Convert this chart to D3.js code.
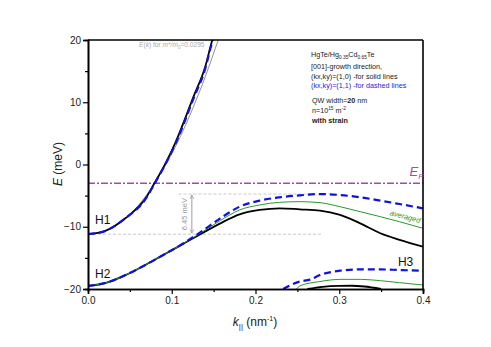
<!DOCTYPE html>
<html>
<head>
<meta charset="utf-8">
<script src="https://cdn.jsdelivr.net/npm/d3@7"></script>
<style>
body { margin: 0; background: #fff; }
text { font-family: Arial, "Liberation Sans", sans-serif; }
</style>
</head>
<body>
<div id="chart"></div>
<script>
// band energies, k in nm^-1, E in meV
var h1K      = [0, 0.02, 0.045, 0.069, 0.079, 0.093, 0.104, 0.126, 0.14, 0.148, 0.152];
var h1Solid  = [-11.2, -10.7, -8.6, -5.4, -3.1, 0.3, 3.4, 10.9, 15.7, 19.8, 21.5];
var h1Dash   = [-11.2, -10.7, -8.6, -5.5, -3.2, 0.2, 3.2, 10.6, 15.4, 19.5, 21];
var parabK   = [0, 0.02, 0.04, 0.06, 0.08, 0.1, 0.12, 0.14, 0.156];
var parabE   = [-11.2, -10.7, -9.2, -6.6, -2.9, 1.7, 7.4, 14.1, 20.2];

var h2K      = [0, 0.0215, 0.045, 0.069, 0.093, 0.117, 0.134, 0.158, 0.181, 0.205, 0.229, 0.253, 0.277, 0.301, 0.325, 0.349, 0.372, 0.4];
var h2Solid  = [-19.5, -19.0, -17.75, -16.1, -14.3, -12.5, -11.2, -9.45, -8.0, -7.3, -7.04, -7.2, -7.4, -8.1, -9.45, -11.05, -12.1, -13.2];
var h2Avg    = [-19.5, -19.0, -17.75, -16.1, -14.3, -12.45, -11.05, -9.0, -7.3, -6.5, -6.07, -5.97, -6.13, -6.78, -7.58, -8.38, -9.19, -10.25];
var h2Dash   = [-19.5, -19.0, -17.75, -16.1, -14.3, -12.4, -10.9, -8.65, -6.78, -5.8, -5.27, -4.95, -4.75, -4.9, -5.27, -5.8, -6.35, -7.04];

var h3SolidK = [0.262, 0.28, 0.3, 0.315, 0.33, 0.35];
var h3Solid  = [-20, -19.65, -19.5, -19.48, -19.6, -20];
var h3AvgK   = [0.249, 0.253, 0.277, 0.301, 0.325, 0.349, 0.372, 0.4];
var h3Avg    = [-20, -19.5, -18.8, -18.45, -18.45, -18.66, -18.98, -19.36];
var h3DashK  = [0.233, 0.253, 0.265, 0.277, 0.301, 0.325, 0.349, 0.372, 0.4];
var h3Dash   = [-20, -18.8, -18.5, -17.75, -17.06, -16.85, -16.85, -16.95, -17.06];

var fermiE = -3;
var gapTop = -4.75, gapBottom = -11.2;

var xTicks = [0, 0.1, 0.2, 0.3, 0.4];
var yTicks = [-20, -10, 0, 10, 20];

var W = 491, H = 347;
var margin = {top: 40, right: 68, bottom: 58, left: 88};
var w = W - margin.left - margin.right, h = H - margin.top - margin.bottom;

var svg = d3.select("#chart").append("svg").attr("width", W).attr("height", H);
var g = svg.append("g").attr("transform", "translate(" + margin.left + "," + margin.top + ")");

var x = d3.scaleLinear().domain([0, 0.4]).range([0, w]);
var y = d3.scaleLinear().domain([-20, 20]).range([h, 0]);

g.append("clipPath").attr("id", "clip").append("rect").attr("width", w).attr("height", h);
var plot = g.append("g").attr("clip-path", "url(#clip)");

function zip(ks, es) { return ks.map(function(k, i) { return [k, es[i]]; }); }
var line = d3.line().x(function(d) { return x(d[0]); }).y(function(d) { return y(d[1]); }).curve(d3.curveMonotoneX);

// gap guides
plot.append("line").attr("x1", x(0.108)).attr("x2", x(0.29)).attr("y1", y(gapTop)).attr("y2", y(gapTop))
  .attr("stroke", "#bbb").attr("stroke-width", 0.8).attr("stroke-dasharray", "3,2");
plot.append("line").attr("x1", x(0)).attr("x2", x(0.28)).attr("y1", y(gapBottom)).attr("y2", y(gapBottom))
  .attr("stroke", "#bbb").attr("stroke-width", 0.8).attr("stroke-dasharray", "3,2");

// fermi level
plot.append("line").attr("x1", 0).attr("x2", w).attr("y1", y(fermiE)).attr("y2", y(fermiE))
  .attr("stroke", "#a846b4").attr("stroke-width", 1.6).attr("stroke-dasharray", "7,2,2,2");

// parabolic reference
plot.append("path").datum(zip(parabK, parabE)).attr("d", line)
  .attr("fill", "none").attr("stroke", "#777").attr("stroke-width", 0.8);

var curves = [
  [h2K, h2Solid, "#000", 1.8, null],
  [h2K, h2Avg, "#2a9a2a", 1, null],
  [h2K, h2Dash, "#1010e0", 2.2, "7,4"],
  [h3SolidK, h3Solid, "#000", 1.8, null],
  [h3AvgK, h3Avg, "#2a9a2a", 1, null],
  [h3DashK, h3Dash, "#1010e0", 2.2, "7,4"],
  [h1K, h1Solid, "#000", 1.8, null],
  [h1K, h1Dash, "#1010e0", 2.2, "7,4"]
];
curves.forEach(function(c) {
  plot.append("path").datum(zip(c[0], c[1])).attr("d", line)
    .attr("fill", "none").attr("stroke", c[2]).attr("stroke-width", c[3])
    .attr("stroke-dasharray", c[4]);
});

// gap arrow
svg.append("defs").html(
  '<marker id="ah" viewBox="0 0 10 10" refX="10" refY="5" markerWidth="5" markerHeight="7" orient="auto-start-reverse">' +
  '<path d="M0,0 L10,5 L0,10" fill="none" stroke="#888" stroke-width="1.5"/></marker>');
var ax = x(0.124);
g.append("line").attr("x1", ax).attr("x2", ax).attr("y1", y(gapTop) + 1).attr("y2", y(gapBottom) - 1)
  .attr("stroke", "#888").attr("stroke-width", 0.8)
  .attr("marker-start", "url(#ah)").attr("marker-end", "url(#ah)");
g.append("text").attr("transform", "translate(" + (ax - 5) + "," + y((gapTop + gapBottom) / 2) + ") rotate(-90)")
  .attr("text-anchor", "middle").attr("font-size", 7.5).attr("fill", "#999").text("6.45 meV");

// axes
g.append("g").attr("transform", "translate(0," + h + ")")
  .call(d3.axisBottom(x).tickValues(xTicks).tickFormat(d3.format(".1f")).tickSize(5).tickPadding(3));
g.append("g").attr("transform", "translate(0," + h + ")")
  .call(d3.axisBottom(x).tickValues([0.05, 0.15, 0.25, 0.35]).tickSize(3).tickFormat(""));
g.append("g")
  .call(d3.axisLeft(y).tickValues(yTicks).tickSize(5).tickPadding(2));
g.append("g").call(d3.axisLeft(y).tickValues([-15, -5, 5, 15]).tickSize(3).tickFormat(""));
g.selectAll(".domain").attr("stroke-width", 1.6);
g.selectAll(".tick line").attr("stroke-width", 1.2);
g.selectAll(".tick text").attr("font-size", 10).attr("fill", "#222").attr("font-family", "Arial, 'Liberation Sans', sans-serif");
g.append("line").attr("x1", 0).attr("x2", w).attr("y1", 0).attr("y2", 0).attr("stroke", "#000").attr("stroke-width", 1.6);
g.append("line").attr("x1", w).attr("x2", w).attr("y1", 0).attr("y2", h).attr("stroke", "#000").attr("stroke-width", 1.6);

// axis titles
var yl = svg.append("text").attr("transform", "translate(62,164) rotate(-90)")
  .attr("text-anchor", "middle").attr("font-size", 12).attr("fill", "#222");
yl.append("tspan").attr("font-style", "italic").text("E");
yl.append("tspan").text(" (meV)");
var xl = svg.append("text").attr("x", 255).attr("y", 326).attr("text-anchor", "middle").attr("font-size", 12).attr("fill", "#222");
xl.append("tspan").attr("font-style", "italic").text("k");
xl.append("tspan").attr("font-size", 8).attr("dy", 3).text("||");
xl.append("tspan").attr("dy", -3).text(" (nm");
xl.append("tspan").attr("font-size", 7).attr("dy", -5).text("-1");
xl.append("tspan").attr("dy", 5).text(")");

// band labels
g.append("text").attr("x", 7).attr("y", y(-9.6)).attr("font-size", 12).attr("fill", "#111").text("H1");
g.append("text").attr("x", 7).attr("y", y(-18.3)).attr("font-size", 12).attr("fill", "#111").text("H2");
g.append("text").attr("x", x(0.37)).attr("y", y(-16.3)).attr("font-size", 12).attr("fill", "#111").text("H3");
var ef = g.append("text").attr("x", x(0.384)).attr("y", y(-1.9)).attr("font-size", 13).attr("fill", "#a846b4").attr("font-style", "italic");
ef.append("tspan").text("E");
ef.append("tspan").attr("font-size", 8).attr("dy", 3).text("F");
g.append("text").attr("transform", "translate(" + x(0.378) + "," + y(-8.75) + ") rotate(15)")
  .attr("text-anchor", "middle").attr("font-size", 7.5).attr("fill", "#2a9a2a").attr("font-style", "italic").text("averaged");
var pt = g.append("text").attr("x", x(0.061)).attr("y", y(18.9)).attr("font-size", 6.6).attr("fill", "#aaa");
pt.append("tspan").attr("font-style", "italic").text("E");
pt.append("tspan").text("(");
pt.append("tspan").attr("font-style", "italic").text("k");
pt.append("tspan").text(") for ");
pt.append("tspan").attr("font-style", "italic").text("m*/m");
pt.append("tspan").attr("font-size", 4.5).attr("dy", 2).text("0");
pt.append("tspan").attr("dy", -2).text("=0.0295");

// info block
var info = svg.append("g").attr("font-size", 7.2).attr("fill", "#222");
var t1 = info.append("text").attr("x", 311).attr("y", 57);
t1.append("tspan").text("HgTe/Hg");
t1.append("tspan").attr("font-size", 4.8).attr("dy", 2).text("0.35");
t1.append("tspan").attr("dy", -2).text("Cd");
t1.append("tspan").attr("font-size", 4.8).attr("dy", 2).text("0.65");
t1.append("tspan").attr("dy", -2).text("Te");
info.append("text").attr("x", 311).attr("y", 68.5).text("[001]-growth direction,");
info.append("text").attr("x", 311).attr("y", 78.5).text("(kx,ky)=(1,0) -for solid lines");
info.append("text").attr("x", 311).attr("y", 88).attr("fill", "#2222ee").text("(kx,ky)=(1,1) -for dashed lines");
var t5 = info.append("text").attr("x", 312).attr("y", 103);
t5.append("tspan").text("QW width=");
t5.append("tspan").attr("font-weight", "bold").text("20");
t5.append("tspan").text(" nm");
var t6 = info.append("text").attr("x", 312).attr("y", 112.5);
t6.append("tspan").text("n=10");
t6.append("tspan").attr("font-size", 4.8).attr("dy", -3).text("15");
t6.append("tspan").attr("dy", 3).text(" m");
t6.append("tspan").attr("font-size", 4.8).attr("dy", -3).text("-2");
info.append("text").attr("x", 312).attr("y", 123).attr("font-weight", "bold").text("with strain");
</script>
</body>
</html>
